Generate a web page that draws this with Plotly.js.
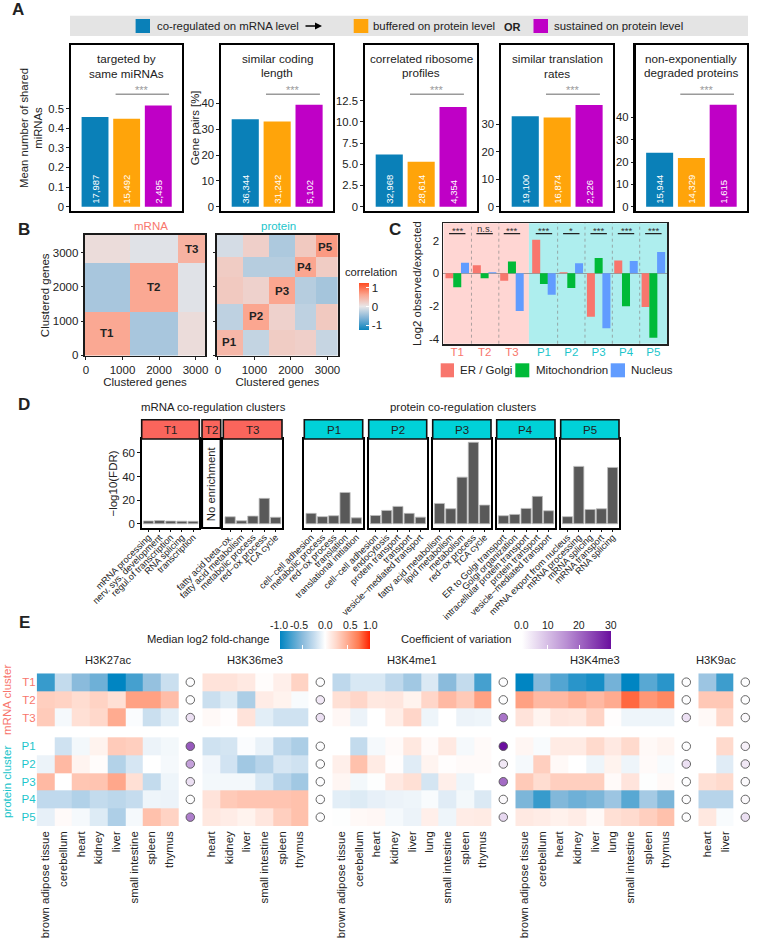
<!DOCTYPE html>
<html><head><meta charset="utf-8">
<script src="https://cdn.plot.ly/plotly-3.0.1.min.js"></script>
<style>html,body{margin:0;padding:0;background:#fff}</style></head>
<body><div id="chart" style="width:758px;height:940px"></div>
<script>
// ---------- Panel A data ----------
const featureCats = ['co-regulated','buffered','sustained'];
const miRNAValues = [0.457,0.448,0.516];
const miRNACounts = ['17,987','15,492','2,495'];
const lengthValues = [33.9,33.0,39.5];
const lengthCounts = ['36,344','31,242','5,102'];
const riboValues = [6.15,5.3,11.75];
const riboCounts = ['32,968','28,614','4,354'];
const rateValues = [32.9,32.4,37.0];
const rateCounts = ['19,100','16,874','2,226'];
const degradValues = [24.2,21.8,45.7];
const degradCounts = ['15,944','14,329','1,615'];
// ---------- Panel B data (block means) ----------
const mrnaEdgesX = [-27,1207,2516,3266];
const mrnaEdgesY = [-5,1270,2680,3510];
const mrnaCorr = [[0.60,-0.38,0.10],[-0.38,0.60,-0.05],[0.10,-0.05,0.50]];
const protEdgesX = [-27,686,1390,2104,2672,3290];
const protEdgesY = [-5,738,1495,2272,2874,3510];
const protCorr = [
 [0.45,-0.22,0.25,0.22,-0.20],
 [-0.25,0.62,0.20,-0.25,0.28],
 [0.28,0.20,0.62,-0.30,-0.40],
 [0.25,-0.30,-0.30,0.62,0.25],
 [-0.12,0.22,-0.35,0.28,0.70]];
// ---------- Panel C data ----------
const locCats = ['T1','T2','T3','P1','P2','P3','P4','P5'];
const locX = [0,1,2,3.17,4.17,5.17,6.17,7.17];
const erGolgi = [-0.30,0.50,-0.45,2.05,0.07,-2.65,0.78,-2.05];
const mito = [-0.85,-0.30,0.72,-0.65,-0.90,0.93,-2.00,-3.93];
const nucleus = [0.65,0.07,-2.30,-1.30,0.62,-3.35,0.75,1.30];
const locSig = ['***','n.s.','***','***','*','***','***','***'];
// ---------- Panel D data ----------
const t1Terms = ['mRNA processing','nerv. sys. development','regul.of transcription','RNA splicing','transcription'];
const t1Fdr = [2.4,2.7,2.3,2.2,2.1];
const t3Terms = ['fatty acid beta−ox.','fatty acid metabolism','metabolic process','red−ox process','TCA cycle'];
const t3Fdr = [5.9,2.5,6.5,21.5,5.5];
const p1Terms = ['cell−cell adhesion','metabolic process','red−ox process','translation','translational initiation'];
const p1Fdr = [8.8,6.0,6.8,26.5,5.0];
const p2Terms = ['cell−cell adhesion','endocytosis','protein transport','transport','vesicle−mediated transport'];
const p2Fdr = [7.0,11.3,14.7,8.8,5.6];
const p3Terms = ['fatty acid metabolism','lipid metabolism','metabolism','red−ox process','TCA cycle'];
const p3Fdr = [17.2,12.7,39.5,69.0,15.8];
const p4Terms = ['ER to Golgi transport','Golgi organization','intracellular protein transport','protein transport','vesicle−mediated transport'];
const p4Fdr = [6.8,7.9,13.0,23.2,11.0];
const p5Terms = ['mRNA export from nucleus','mRNA processing','mRNA splicing','mRNA transport','RNA splicing'];
const p5Fdr = [6.0,48.6,12.1,12.7,47.7];
// ---------- Panel E data ----------
const rowNames = ['T1','T2','T3','','P1','P2','P3','P4','P5'];
const rowEdges = [0,1,2,3,3.62,4.62,5.62,6.62,7.62,8.62];
const tissues27 = ['brown adipose tissue','cerebellum','heart','kidney','liver','small intestine','spleen','thymus'];
const tissues36 = ['heart','kidney','liver','small intestine','spleen','thymus'];
const tissues4 = ['brown adipose tissue','cerebellum','heart','kidney','liver','lung','small intestine','spleen','thymus'];
const tissues9 = ['heart','liver'];
const h3k27ac = [
 [-.8,-.25,-.5,-.6,-1,-.75,-.45,-.22],
 [.3,.28,.22,.28,.2,.55,.55,.4],
 [.32,-.04,.2,.25,.5,-.02,-.22,-.12],
 [null,null,null,null,null,null,null,null],
 [0,-.2,-.05,.08,.32,.3,-.08,-.05],
 [-.08,.42,.07,.02,-.32,-.17,0,-.04],
 [.42,0,.35,.36,.52,.2,-.25,-.07],
 [-.26,-.26,-.33,-.25,-.28,-.24,-.07,-.08],
 [-.1,.03,-.04,-.14,-.34,-.04,.38,.28]];
const h3k36me3 = [
 [.18,.18,.14,.02,.1,.28],
 [-.22,-.14,-.35,.12,.08,-.03],
 [.04,.01,.18,-.12,-.2,-.2],
 [null,null,null,null,null,null],
 [-.2,-.18,-.02,-.09,-.27,-.35],
 [-.06,-.19,-.4,-.3,-.17,-.2],
 [-.05,-.05,-.05,-.16,-.3,-.4],
 [.18,.33,.36,.36,.36,.38],
 [.15,.12,.08,.16,.3,.38]];
const h3k4me1 = [
 [-.27,-.16,-.16,-.27,-.4,-.15,-.5,-.25,-.75],
 [.2,.26,.15,.16,.08,.26,.42,.33,.55],
 [.05,-.08,0,.11,.26,-.07,0,-.08,-.07],
 [null,null,null,null,null,null,null,null,null],
 [0,-.25,-.04,.03,.15,.03,.14,-.04,.03],
 [.1,.38,.13,.01,-.13,.07,.01,.03,.03],
 [.06,-.05,-.01,.14,.2,-.18,.1,-.07,0],
 [-.12,-.14,-.1,-.08,-.07,-.03,-.13,-.05,-.15],
 [-.01,.04,.05,-.04,-.08,.1,-.07,.12,.13]];
const h3k4me3 = [
 [-1,-.52,-.7,-.85,-.92,-.58,-1,-.68,-.85],
 [.55,.42,.42,.5,.42,.5,.8,.6,.68],
 [.18,.07,.16,.15,.27,.01,-.07,-.07,-.07],
 [null,null,null,null,null,null,null,null,null],
 [.06,-.03,.13,.13,.24,.14,.24,.04,.07],
 [-.04,.3,.04,0,-.07,.08,-.07,.03,-.03],
 [.33,.22,.3,.3,.3,.03,.17,-.01,.04],
 [-.55,-.8,-.53,-.6,-.55,-.42,-.68,-.38,-.55],
 [.14,.12,.09,.12,.04,.2,.23,.3,.38]];
const h3k9ac = [
 [-.42,-.78],[.34,.34],[.04,.25],[null,null],[0,.24],[0,-.13],[.2,.24],[-.3,-.3],[.15,-.03]];
const cv27 = [2.5,2.5,6,null,22,14,6,2.5,18];
const cv36 = [2.5,5,6,null,2.5,2.5,2.5,2.5,2.5];
const cv4me1 = [2.5,2.5,19,null,30,5,20,3,7];
const cv4me3 = [2.5,2.5,6,null,2.5,6,2.5,2.5,2.5];
const cv9 = [2.5,2.5,3,null,4,5,3,3,6];

// ---------- helpers ----------
const W=758,H=940;
const px=x=>x/W, py=y=>1-y/H;
const FONT='"Liberation Sans", Arial, sans-serif', INK='#222';
const BLUE='#0a80b8',ORANGE='#ffa40a',PURPLE='#bf00c6',SALMON='#f8766d',TURQ='#1cc5cb';
const traces=[], annotations=[], shapes=[];
const layout={width:W,height:H,margin:{l:0,r:0,t:0,b:0},autosize:false,showlegend:false,
  paper_bgcolor:'#fff',plot_bgcolor:'rgba(0,0,0,0)',font:{family:FONT,size:11.5,color:INK},bargap:0.15};
let ax=0;
function axes(xCfg,yCfg,xr,yr){
  ax++;
  const xn=ax===1?'xaxis':'xaxis'+ax, yn=ax===1?'yaxis':'yaxis'+ax, xa='x'+(ax===1?'':ax), ya='y'+(ax===1?'':ax);
  layout[xn]=Object.assign({domain:[px(xr[0]),px(xr[1])],anchor:ya,showgrid:false,zeroline:false,automargin:false},xCfg);
  layout[yn]=Object.assign({domain:[py(yr[1]),py(yr[0])],anchor:xa,showgrid:false,zeroline:false,automargin:false},yCfg);
  return [xa,ya];
}
function txt(text,x,y,o={}){
  const {size=11.5,color=INK,angle=0,bold=false,xanchor='center'}=o;
  annotations.push({text:bold?'<b>'+text+'</b>':text,xref:'paper',yref:'paper',x:px(x),y:py(y),showarrow:false,
    xanchor,yanchor:'middle',textangle:angle,font:{size,color,family:FONT}});
}
function rect(x0,y0,x1,y1,fill,lw=0,lc='#000',layer='above'){
  shapes.push({type:'rect',xref:'paper',yref:'paper',x0:px(x0),x1:px(x1),y0:py(y0),y1:py(y1),fillcolor:fill,
    line:{width:lw,color:lc},layer});
}
// ---------- Panel letters ----------
txt('A',18,10,{bold:true,size:17});txt('B',24,229,{bold:true,size:17});txt('C',395,230,{bold:true,size:17});
txt('D',24,404,{bold:true,size:17});txt('E',24,622,{bold:true,size:17});

// ---------- Panel A ----------
rect(70,15.7,748,36,'#e4e4e4');
rect(135.6,19,150,33,BLUE);rect(353.7,19,368.3,33,ORANGE);rect(533.5,19,548,33,PURPLE);
txt('co-regulated on mRNA level',154.5,25.7,{xanchor:'left',size:11.4});
txt('buffered on protein level',371,25.7,{xanchor:'left',size:11.4});
txt('OR',512.5,26.5,{bold:true,size:11});
txt('sustained on protein level',552,25.7,{xanchor:'left',size:11.4});
annotations.push({text:'',xref:'paper',yref:'paper',x:px(322),y:py(26),ax:-18,ay:0,showarrow:true,arrowhead:2,arrowsize:1,arrowwidth:1.4,arrowcolor:'#000'});

const panelsA=[
 {v:miRNAValues,c:miRNACounts,x:[71,182],ry:[-0.022,0.824],tv:[0,.1,.2,.3,.4,.5],tt:['0','0.1','0.2','0.3','0.4','0.5'],
  title:['targeted by','same miRNAs'],ty:[59,74],yt:'Mean number of shared<br>miRNAs',so:3},
 {v:lengthValues,c:lengthCounts,x:[221,333],ry:[-1.68,62.7],tv:[0,10,20,30,40],tt:['0','10','20','30','40'],
  title:['similar coding','length'],ty:[58,72],yt:'Gene pairs [%]',so:0},
 {v:riboValues,c:riboCounts,x:[365,477],ry:[-0.51,19.05],tv:[0,2.5,5,7.5,10,12.5],tt:['0','2.5','5.0','7.5','10.0','12.5'],
  title:['correlated ribosome','profiles'],ty:[58,72]},
 {v:rateValues,c:rateCounts,x:[501,613],ry:[-1.57,58.8],tv:[0,10,20,30],tt:['0','10','20','30'],
  title:['similar translation','rates'],ty:[59,74]},
 {v:degradValues,c:degradCounts,x:[635.5,747],ry:[-1.94,72.5],tv:[0,10,20,30,40],tt:['0','10','20','30','40'],
  title:['non-exponentially','degraded proteins'],ty:[58,72]}];
panelsA.forEach(p=>{
  const unit=(p.x[1]-p.x[0])/3.51;
  const [xa,ya]=axes({range:[-0.76,2.75],showticklabels:false,ticks:'',showline:true,mirror:true,linecolor:'#000',linewidth:2.2,type:'linear'},
    {range:p.ry,tickmode:'array',tickvals:p.tv,ticktext:p.tt,ticks:'outside',ticklen:2.5,tickcolor:'#222',showline:true,mirror:true,linecolor:'#000',linewidth:2.2,
     tickfont:{size:11.3},title:p.yt?{text:p.yt,font:{size:11.3},standoff:p.so}:undefined},p.x,[45,211]);
  traces.push({type:'bar',x:[0,1,2],y:p.v,xaxis:xa,yaxis:ya,marker:{color:[BLUE,ORANGE,PURPLE]},width:0.85,
    text:p.c,textposition:'inside',insidetextanchor:'start',textangle:-90,constraintext:'none',
    insidetextfont:{size:9.5,color:'#fff'},hoverinfo:'y'});
  shapes.push({type:'line',xref:xa,yref:'paper',x0:0.65,x1:2.34,y0:py(94.3),y1:py(94.3),line:{color:'#9a9a9a',width:1.5}});
  const mid=p.x[0]+(1.495+0.76)*unit;
  txt('***',mid,90.5,{color:'#9a9a9a',size:11});
  const cx=(p.x[0]+p.x[1])/2;
  txt(p.title[0],cx,p.ty[0],{size:11.7});txt(p.title[1],cx,p.ty[1],{size:11.7});
});

// ---------- Panel B ----------
layout.coloraxis3={cmin:-1.25,cmax:1.25,
  colorscale:[[0,'#0a84bd'],[.25,'#7fb2d6'],[.5,'#e8e6e8'],[.75,'#fba58f'],[1,'#ff4a20']],
  colorbar:{x:px(359),xanchor:'left',y:py(306.5),yanchor:'middle',lenmode:'pixels',len:47.3,thickness:10,thicknessmode:'pixels',xpad:0,ypad:0,
    outlinewidth:0,tickmode:'array',tickvals:[-1,0,1],ticktext:['-1','0','1'],ticks:'inside',ticklen:3,tickcolor:'#fff',tickfont:{size:11.5}}};
const tickB={tickmode:'array',tickvals:[0,1000,2000,3000],ticks:'outside',ticklen:2.5,tickcolor:'#222',showline:true,mirror:true,linecolor:'#1a1a1a',linewidth:1.8,tickfont:{size:11.5}};
let [bx1,by1]=axes(Object.assign({},tickB,{range:[-27,3260],title:{text:'Clustered genes',font:{size:11.5},standoff:1}}),
  Object.assign({},tickB,{range:[-5,3510],title:{text:'Clustered genes',font:{size:11.5},standoff:1}}),[85,205],[235,355.5]);
traces.push({type:'heatmap',x:mrnaEdgesX,y:mrnaEdgesY,z:mrnaCorr,xaxis:bx1,yaxis:by1,coloraxis:'coloraxis3'});
let [bx2,by2]=axes(Object.assign({},tickB,{range:[-27,3280],title:{text:'Clustered genes',font:{size:11.5},standoff:1}}),
  Object.assign({},tickB,{range:[-5,3510],showticklabels:false}),[217,337.7],[235,355.5]);
traces.push({type:'heatmap',x:protEdgesX,y:protEdgesY,z:protCorr,xaxis:bx2,yaxis:by2,coloraxis:'coloraxis3'});
txt('mRNA',150.7,226,{color:SALMON});txt('protein',278.7,226,{color:TURQ});
txt('correlation',342.7,271.7,{xanchor:'left',size:11.2});
[['T1',107.3,332.7],['T2',153.3,287],['T3',191.7,249.3],['P1',229.3,342.3],['P2',256.3,316],['P3',282.3,290.7],['P4',304.7,267.3],['P5',325.7,246.7]]
  .forEach(a=>txt(a[0],a[1],a[2],{bold:true}));

// ---------- Panel C ----------
const locTicks=locCats.map((c,i)=>'<span style="color:'+(c[0]==='T'?SALMON:TURQ)+'">'+c+'</span>');
let [cx,cy]=axes({range:[-0.51,7.68],tickmode:'array',tickvals:locX,ticktext:locTicks,ticks:'',ticklabelstandoff:-3,showline:true,mirror:true,linecolor:'#222',linewidth:1.8,tickfont:{size:11.5}},
  {range:[-4.29,3.05],tickmode:'array',tickvals:[-4,-2,0,2],ticktext:['-4','-2','0','2'],ticks:'',showline:true,mirror:true,linecolor:'#222',linewidth:1.8,tickfont:{size:11.5},
   zeroline:true,zerolinecolor:'#8a8a8a',zerolinewidth:0.8,title:{text:'Log2 observed/expected',font:{size:11.4},standoff:5}},[443.3,667.3],[223.3,343.7]);
shapes.push({type:'rect',xref:cx,yref:'paper',x0:-0.51,x1:2.62,y0:py(343.7),y1:py(223.3),fillcolor:'#ffd6d3',line:{width:0},layer:'below'});
shapes.push({type:'rect',xref:cx,yref:'paper',x0:2.62,x1:7.68,y0:py(343.7),y1:py(223.3),fillcolor:'#aeeeee',line:{width:0},layer:'below'});
[0.52,1.52,3.67,4.67,5.67,6.67].forEach(v=>shapes.push({type:'line',xref:cx,yref:'paper',x0:v,x1:v,y0:py(343.7),y1:py(223.3),line:{color:'#8a8a8a',width:0.7,dash:'dot'},layer:'below'}));
[[erGolgi,SALMON,'ER / Golgi'],[mito,'#00ba38','Mitochondrion'],[nucleus,'#619cff','Nucleus']].forEach(s=>
  traces.push({type:'bar',name:s[2],x:locX,y:s[0],xaxis:cx,yaxis:cy,marker:{color:s[1]},width:0.293,offsetgroup:s[2]}));
locSig.forEach((s,i)=>{
  shapes.push({type:'line',xref:cx,yref:cy,x0:locX[i]-0.3,x1:locX[i]+0.3,y0:2.42,y1:2.42,line:{color:'#222',width:1.2}});
  annotations.push({text:s,xref:cx,yref:cy,x:locX[i],y:s==='n.s.'?2.72:2.62,showarrow:false,font:{size:9.5,color:'#333'}});
});
rect(440.7,363.3,454,377.3,SALMON);rect(515.3,363.3,529.3,377.3,'#00ba38');rect(610.7,363.3,625,377.3,'#619cff');
txt('ER / Golgi',458,370,{xanchor:'left'});txt('Mitochondrion',534,370,{xanchor:'left'});txt('Nucleus',628.7,370,{xanchor:'left'});

// ---------- Panel D ----------
txt('mRNA co-regulation clusters',213,407,{size:11.4});txt('protein co-regulation clusters',463.5,407,{size:11.4});
const panelsD=[
 {n:'T1',t:t1Terms,v:t1Fdr,x:[141.7,199.3],c:'#fa655c',first:true},
 {n:'T3',t:t3Terms,v:t3Fdr,x:[223.3,282],c:'#fa655c'},
 {n:'P1',t:p1Terms,v:p1Fdr,x:[304.3,362.7],c:'#00d2d8'},
 {n:'P2',t:p2Terms,v:p2Fdr,x:[368.7,426.7],c:'#00d2d8'},
 {n:'P3',t:p3Terms,v:p3Fdr,x:[432.7,491],c:'#00d2d8'},
 {n:'P4',t:p4Terms,v:p4Fdr,x:[496.7,555],c:'#00d2d8'},
 {n:'P5',t:p5Terms,v:p5Fdr,x:[560.7,619],c:'#00d2d8'}];
panelsD.forEach(p=>{
  const [xa,ya]=axes({type:'category',range:[-0.6,4.56],tickmode:'array',tickvals:p.t,ticktext:p.t,tickangle:-45,ticks:'outside',ticklen:2.5,tickcolor:'#111',ticklabelstandoff:-4,
     showline:true,mirror:true,linecolor:'#000',linewidth:1.9,tickfont:{size:9.2,color:'#222'}},
    {range:[-3.6,71.8],tickmode:'array',tickvals:[0,20,40,60],ticks:p.first?'outside':'',ticklen:2.5,tickcolor:'#111',showticklabels:!!p.first,
     showline:true,mirror:true,linecolor:'#000',linewidth:1.9,tickfont:{size:11.5},
     title:p.first?{text:'−log10(FDR)',font:{size:11.5},standoff:2}:undefined},p.x,[439,528]);
  traces.push({type:'bar',x:p.t,y:p.v,xaxis:xa,yaxis:ya,width:0.9,marker:{color:'#595959',line:{color:'#bdbdbd',width:0.8}}});
  rect(p.x[0],419.7,p.x[1],439,p.c,1.6,'#111');
  txt(p.n,(p.x[0]+p.x[1])/2,429.5,{size:11.5});
});
rect(202,419.7,220.7,439,'#fa655c',1.6,'#111');txt('T2',211.3,429.5,{size:11.5});
rect(202,439,220.7,528,'rgba(0,0,0,0)',2.2,'#000');
txt('No enrichment',211.3,484,{angle:-90,size:11.4});

// ---------- Panel E ----------
layout.coloraxis={cmin:-1,cmax:1,
  colorscale:[[0,'#0085c2'],[.25,'#8abbdc'],[.38,'#c5dcee'],[.5,'#ffffff'],[.625,'#ffd8cb'],[.75,'#ffab90'],[.875,'#ff7a50'],[1,'#ff2000']],
  colorbar:{orientation:'h',x:px(280),xanchor:'left',y:py(631),yanchor:'top',lenmode:'pixels',len:90,thickness:17.7,thicknessmode:'pixels',xpad:0,ypad:0,
    outlinewidth:0,tickmode:'array',tickvals:[-.5,0,.5],ticks:'inside',ticklen:4,tickcolor:'#fff',showticklabels:false}};
layout.coloraxis2={cmin:2.2,cmax:30,colorscale:[[0,'#ffffff'],[.5,'#b98fd3'],[1,'#6a0f9e']],
  colorbar:{orientation:'h',x:px(522.3),xanchor:'left',y:py(631),yanchor:'top',lenmode:'pixels',len:88.7,thickness:17.7,thicknessmode:'pixels',xpad:0,ypad:0,
    outlinewidth:0,tickmode:'array',tickvals:[10,20],ticks:'inside',ticklen:4,tickcolor:'#fff',showticklabels:false}};
[['-1.0',279],['-0.5',299],['0.0',325.7],['0.5',350],['1.0',370]].forEach(a=>txt(a[0],a[1],624.5,{size:10.5}));
[['0.0',521],['10',547.7],['20',579.3],['30',610.7]].forEach(a=>txt(a[0],a[1],624.5,{size:10.5}));
txt('Median log2 fold-change',271.7,639,{xanchor:'right',size:11.2});
txt('Coefficient of variation',514.3,639,{xanchor:'right',size:11.2});
const rowCenters=rowNames.map((n,i)=>(rowEdges[i]+rowEdges[i+1])/2);
const CELL=17.7;
const panelsE=[
 {name:'H3K27ac',z:h3k27ac,t:tissues27,x:36.7,cv:cv27,cx:190.3},
 {name:'H3K36me3',z:h3k36me3,t:tissues36,x:202.3,cv:cv36,cx:320.3},
 {name:'H3K4me1',z:h3k4me1,t:tissues4,x:332.3,cv:cv4me1,cx:503.3},
 {name:'H3K4me3',z:h3k4me3,t:tissues4,x:515.3,cv:cv4me3,cx:686.3},
 {name:'H3K9ac',z:h3k9ac,t:tissues9,x:698.3,cv:cv9,cx:745.3}];
const rowIdx=rowNames.map((n,i)=>i).filter(i=>rowNames[i]);
panelsE.forEach((p,k)=>{
  const circle=(p.cx-p.x)/CELL-0.5;
  const right=p.cx+6.5;
  const [xa,ya]=axes({range:[-0.5,circle+6.5/CELL],tickmode:'array',tickvals:p.t.map((_,i)=>i),ticktext:p.t,tickangle:-90,ticks:'',ticklabelstandoff:2,tickfont:{size:11.4,color:'#222'},showline:false},
    {range:[8.62,0],tickmode:'array',tickvals:rowIdx.map(i=>rowCenters[i]),
     ticktext:rowIdx.map(i=>'<span style="color:'+(rowNames[i][0]==='T'?SALMON:TURQ)+'">'+rowNames[i]+'</span>'),
     showticklabels:k===0,ticks:'',tickfont:{size:11.5},showline:false},[p.x,right],[673.3,826]);
  traces.push({type:'heatmap',x:p.t.map((_,i)=>i),y:rowEdges,z:p.z,xaxis:xa,yaxis:ya,coloraxis:'coloraxis',hoverongaps:false});
  traces.push({type:'scatter',mode:'markers',x:rowIdx.map(()=>circle),y:rowIdx.map(i=>rowCenters[i]),xaxis:xa,yaxis:ya,cliponaxis:false,
    marker:{size:8.5,color:rowIdx.map(i=>p.cv[i]),coloraxis:'coloraxis2',line:{color:'#555',width:0.9}}});
  txt(p.name,p.x+p.t.length*CELL/2+(k===4?-0.5:0),660,{size:11.2});
});
txt('mRNA cluster',7,700,{angle:-90,color:SALMON,size:11.5});
txt('protein cluster',7,782,{angle:-90,color:TURQ,size:11.5});

layout.annotations=annotations;layout.shapes=shapes;
Plotly.newPlot('chart',traces,layout,{staticPlot:true,displayModeBar:false});
</script></body></html>
